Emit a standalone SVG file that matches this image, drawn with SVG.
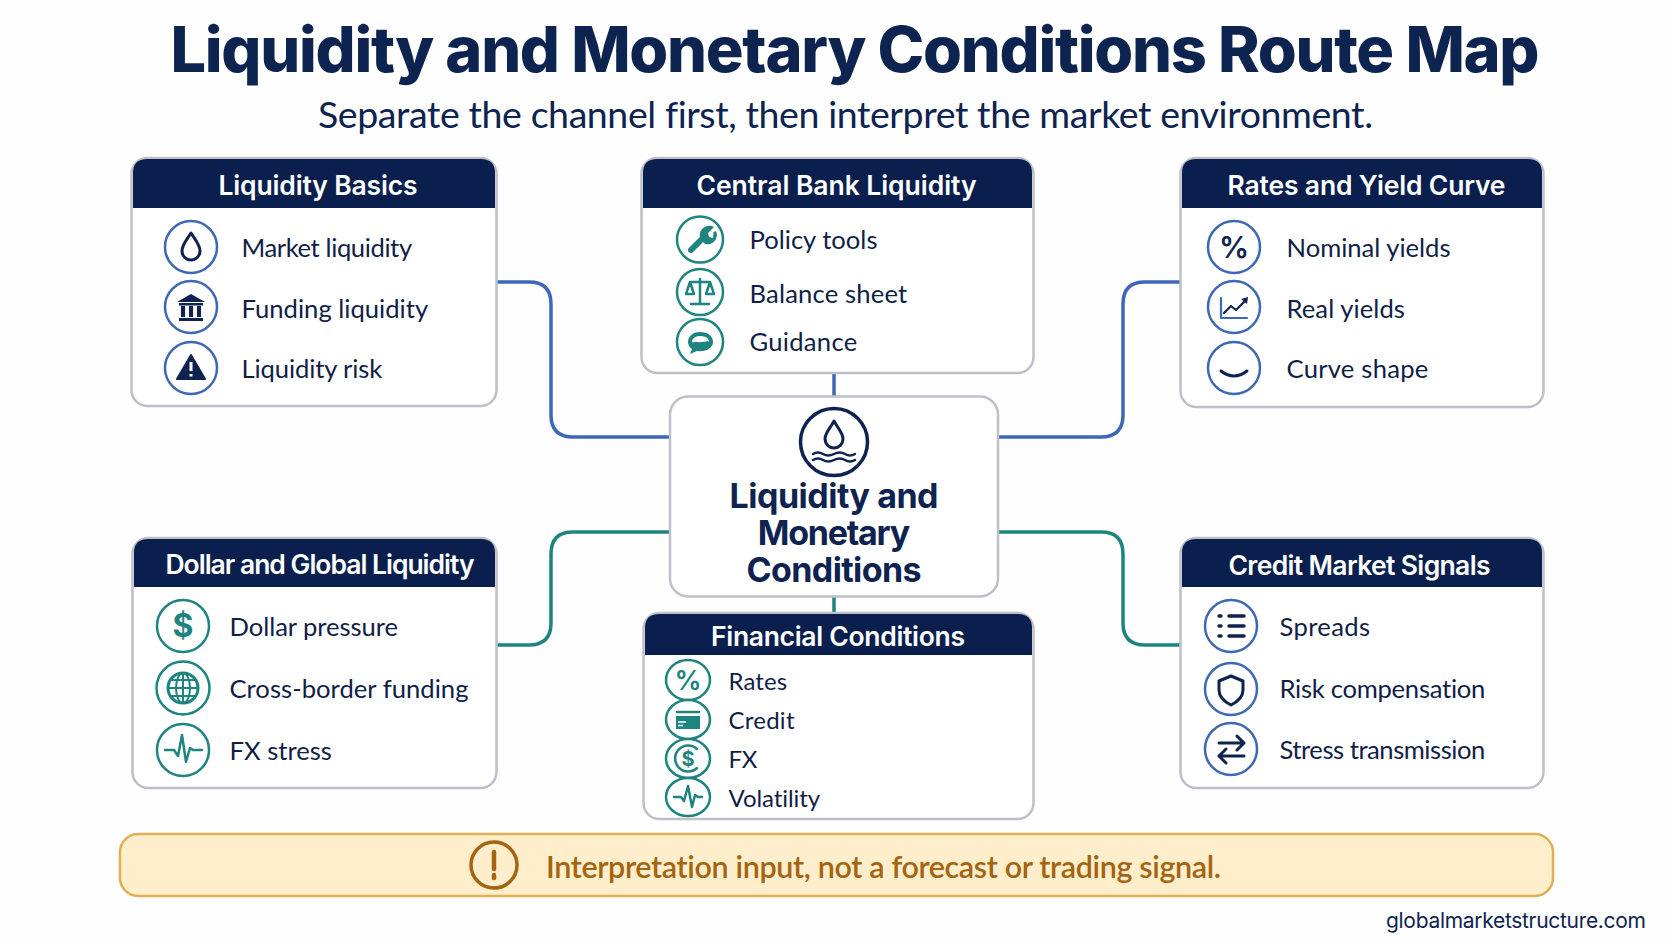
<svg xmlns="http://www.w3.org/2000/svg" width="1672" height="941" viewBox="0 0 1672 941">
<style>
text{font-family:"Inter","Liberation Sans",sans-serif;font-variant-ligatures:none}
.title{font-size:63px;font-weight:800;fill:#0d2350;text-anchor:middle}
.sub{font-family:"Lato","Liberation Sans",sans-serif;font-size:37.5px;font-weight:400;fill:#0d2350;text-anchor:middle}
.card{fill:#fff;stroke:#bcc0c8;stroke-width:2.5}
.hd{fill:#0a1f4e}
.ht{font-size:26.5px;font-weight:600;fill:#fff;text-anchor:middle}
.it{font-family:"Lato","Liberation Sans",sans-serif;font-size:25.6px;fill:#101e48}
.fi{font-size:24px}
.ib{fill:#fff;stroke-width:2.5}
.b{stroke:#3d68b8}.t{stroke:#1e8480}
.n{fill:none;stroke:#0e2350;stroke-width:3;stroke-linecap:round;stroke-linejoin:round}
.nf{fill:#0e2350}
.tn{fill:none;stroke:#1e8480;stroke-width:3;stroke-linecap:round;stroke-linejoin:round}
.tf{fill:#1e8480}
.cn{fill:none;stroke-width:3.5}
.ct{font-size:34px;font-weight:700;fill:#0e2350;text-anchor:middle}
.ban{font-family:"Lato","Liberation Sans",sans-serif;font-size:30.5px;font-weight:600;fill:#a5640f}
</style>
<rect width="1672" height="941" fill="#fefefe"/>
<text class="title" x="855" y="72" textLength="1369">Liquidity and Monetary Conditions Route Map</text>
<text class="sub" x="845.500" y="127.500" textLength="1055">Separate the channel first, then interpret the market environment.</text>
<g id="connectors">
<path class="cn b" d="M497 282H529Q551 282 551 304V415Q551 437 573 437H669"/>
<path class="cn b" d="M999 437H1101Q1123 437 1123 415V304Q1123 282 1145 282H1180"/>
<path class="cn t" d="M669 532H573Q551 532 551 554V623Q551 645 529 645H497"/>
<path class="cn t" d="M999 532H1101Q1123 532 1123 554V623Q1123 645 1145 645H1180"/>
<path class="cn b" d="M834 373V396"/>
<path class="cn t" d="M834 597V612"/>
</g>
<g id="node-liquidity-basics">
<rect class="card" x="131.500" y="158" width="365" height="248" rx="16"/>
<path class="hd" d="M133 208V173Q133 159 147 159H481Q495 159 495 173V208Z"/>
<text class="ht" x="318" y="194.500" textLength="199">Liquidity Basics</text>
<circle class="ib b" cx="191" cy="247" r="26"/><path class="n" d="M191 233C186 241 182 245 182 251A9 9 0 0 0 200 251C200 245 196 241 191 233Z"/>
<circle class="ib b" cx="191" cy="307" r="26"/><path class="nf" d="M191 294L205 302H177ZM179 303H203V305.500H179ZM181 306H185V317H181ZM189 306H193V317H189ZM197 306H201V317H197ZM179 318H203V321H179Z"/>
<circle class="ib b" cx="191" cy="368" r="26"/><path class="nf" d="M191 355L205 379H177Z" stroke="#0e2350" stroke-width="2" stroke-linejoin="round"/><path d="M191 362V371M191 374V376.500" stroke="#fff" stroke-width="3"/>
<text class="it" x="241.500" y="257" textLength="170.600">Market liquidity</text>
<text class="it" x="241.500" y="318" textLength="186.600">Funding liquidity</text>
<text class="it" x="241.500" y="378" textLength="140.800">Liquidity risk</text>
</g>
<g id="node-central-bank">
<rect class="card" x="641.500" y="158" width="392" height="215" rx="16"/>
<path class="hd" d="M643 208V173Q643 159 657 159H1018Q1032 159 1032 173V208Z"/>
<text class="ht" x="836.500" y="194.500" textLength="280">Central Bank Liquidity</text>
<circle class="ib t" cx="700" cy="239.500" r="23"/><path class="tn" style="stroke-width:6" d="M691 250L704 237"/><path class="tf" d="M701 240A9.500 9.500 0 0 1 714 227L708 233L709 237L713 238L713.500 232L716 231A9.500 9.500 0 0 1 705 244Z"/>
<circle class="ib t" cx="700" cy="292" r="23"/><path class="tn" style="stroke-width:2.500" d="M700 279V303M691 304H709M690 282H710M690 282L686 294H694ZM710 282L706 294H714Z"/>
<circle class="ib t" cx="700" cy="342" r="23"/><path class="tf" d="M700 332C692 332 688 337 688 342C688 345 690 348 692 349L690 354L697 351C706 352 713 348 713 342C713 336 708 332 700 332Z"/><path fill="#fff" d="M692 342C692 338 696 336 700 336C705 336 709 338 709 342C707 340 706 342 704 342C702 341 700 343 698 342C696 341 694 343 692 342Z"/>
<text class="it" x="749.500" y="249" textLength="128">Policy tools</text>
<text class="it" x="749.500" y="303" textLength="157.800">Balance sheet</text>
<text class="it" x="749.500" y="351" textLength="107.700">Guidance</text>
</g>
<g id="node-rates">
<rect class="card" x="1180.500" y="158" width="363" height="249" rx="16"/>
<path class="hd" d="M1182 208V173Q1182 159 1196 159H1528Q1542 159 1542 173V208Z"/>
<text class="ht" x="1366.500" y="194.500" textLength="278">Rates and Yield Curve</text>
<circle class="ib b" cx="1234" cy="247" r="26"/><text x="1234" y="258" font-size="30" font-weight="600" fill="#0e2350" text-anchor="middle">%</text>
<circle class="ib b" cx="1234" cy="307" r="26"/><path class="n" style="stroke-width:2.200;stroke:#3d68b8" d="M1221 298V318H1247"/><path class="n" style="stroke-width:2.200" d="M1224 313L1231 306L1236 310L1246 300"/><path class="nf" d="M1248 297L1247 304L1241 299Z"/>
<circle class="ib b" cx="1234" cy="368" r="26"/><path class="n" d="M1221 371Q1234 381 1247 371"/>
<text class="it" x="1286.500" y="257" textLength="164">Nominal yields</text>
<text class="it" x="1286.500" y="317.500" textLength="118.400">Real yields</text>
<text class="it" x="1286.500" y="378" textLength="141.800">Curve shape</text>
</g>
<g id="node-dollar">
<rect class="card" x="132.500" y="538" width="364" height="250" rx="16"/>
<path class="hd" d="M134 587V553Q134 539 148 539H481Q495 539 495 553V587Z"/>
<text class="ht" x="320" y="573.500" textLength="309">Dollar and Global Liquidity</text>
<circle class="ib t" cx="183" cy="626" r="26"/><text x="183" y="637" font-size="32" font-weight="700" fill="#1e8480" text-anchor="middle">$</text>
<circle class="ib t" cx="183" cy="688" r="26.500"/><circle class="tn" cx="183" cy="688" r="15"/><path class="tn" style="stroke-width:2" d="M168 688H198M170 680H196M170 696H196M183 673V703"/><ellipse class="tn" style="stroke-width:2" cx="183" cy="688" rx="7" ry="15"/>
<circle class="ib t" cx="183" cy="750" r="26"/><path class="tn" style="stroke-width:2.500" d="M165 750H174L178 756L182 735L186 762L190 748L193 750H202"/>
<text class="it" x="229.500" y="636" textLength="168.500">Dollar pressure</text>
<text class="it" x="229.500" y="698" textLength="239">Cross-border funding</text>
<text class="it" x="229.500" y="759.500" textLength="102.400">FX stress</text>
</g>
<g id="node-financial">
<rect class="card" x="643.500" y="613" width="390" height="206" rx="16"/>
<path class="hd" d="M645 655V628Q645 614 659 614H1018Q1032 614 1032 628V655Z"/>
<text class="ht" x="838" y="645.500" textLength="254">Financial Conditions</text>
<ellipse class="ib t" cx="688" cy="680" rx="22" ry="20"/><text x="688" y="690" font-size="27" font-weight="600" fill="#1e8480" text-anchor="middle">%</text>
<ellipse class="ib t" cx="688" cy="719.500" rx="22" ry="19.500"/><path class="tf" d="M676 716H700V729H676Z"/><path class="tn" style="stroke-width:2.500;stroke-linecap:butt" d="M676 712H700"/><path d="M678 722H686M678 725.500H683" stroke="#fff" stroke-width="1.500"/>
<ellipse class="ib t" cx="688" cy="758.500" rx="22" ry="19.500"/><path class="tn" style="stroke-width:2.500" d="M697 749A13 13 0 1 0 697 768"/><text x="688" y="766" font-size="20" font-weight="700" fill="#1e8480" text-anchor="middle">$</text>
<ellipse class="ib t" cx="688" cy="797" rx="22" ry="19"/><path class="tn" style="stroke-width:2.500" d="M674 797H681L684 801L688 786L692 807L695 795L698 797H702"/>
<text class="it fi" x="728.500" y="690" textLength="58.600">Rates</text>
<text class="it fi" x="728.500" y="729" textLength="66">Credit</text>
<text class="it fi" x="728.500" y="768" textLength="28.800">FX</text>
<text class="it fi" x="728.500" y="807" textLength="91.700">Volatility</text>
</g>
<g id="node-credit">
<rect class="card" x="1180.500" y="538" width="363" height="250" rx="16"/>
<path class="hd" d="M1182 587V553Q1182 539 1196 539H1528Q1542 539 1542 553V587Z"/>
<text class="ht" x="1359.500" y="575" textLength="262">Credit Market Signals</text>
<circle class="ib b" cx="1231" cy="626" r="26"/><path class="n" style="stroke-width:3.500" d="M1229 616H1244M1229 626H1244M1229 636H1244M1219 616H1221M1219 626H1221M1219 636H1221"/>
<circle class="ib b" cx="1231" cy="689" r="26"/><path class="n" d="M1231 676L1219 681V690C1219 698 1225 702 1231 705C1237 702 1243 698 1243 690V681Z"/>
<circle class="ib b" cx="1231" cy="749" r="26"/><path class="n" d="M1219 743H1244M1237 736L1244 743L1237 750M1244 756H1219M1226 749L1219 756L1226 763"/>
<text class="it" x="1279.500" y="636" textLength="90.600">Spreads</text>
<text class="it" x="1279.500" y="698" textLength="205.800">Risk compensation</text>
<text class="it" x="1279.500" y="759" textLength="205.800">Stress transmission</text>
</g>
<g id="node-center">
<rect class="card" x="670" y="396.500" width="328" height="200" rx="18"/>
<circle cx="834" cy="442" r="33.500" fill="#fff" stroke="#0e2350" stroke-width="3.500"/>
<path class="n" d="M834 421C829 430 825 433 825 439A9 9 0 0 0 843 439C843 433 839 430 834 421Z"/>
<path class="n" style="stroke-width:2.500" d="M813 454Q818 451 823 454T834 454T845 454T855 454M813 460Q818 457 823 460T834 460T845 460T855 460"/>
<text class="ct" x="834" y="507.500" textLength="209">Liquidity and</text>
<text class="ct" x="834" y="545" textLength="152.500">Monetary</text>
<text class="ct" x="834" y="582" textLength="175">Conditions</text>
</g>
<g id="banner">
<rect x="120" y="834" width="1433" height="62" rx="18" fill="#feeecb" stroke="#dfb054" stroke-width="2.500"/>
<circle cx="494" cy="865" r="23" fill="none" stroke="#a5640f" stroke-width="3.500"/>
<path d="M494 852V869M494 875V878" stroke="#a5640f" stroke-width="4.500" stroke-linecap="round"/>
<text class="ban" x="546" y="878" textLength="675">Interpretation input, not a forecast or trading signal.</text>
</g>
<text x="1646" y="928" font-size="21" fill="#0e2350" text-anchor="end" textLength="260">globalmarketstructure.com</text>
</svg>
